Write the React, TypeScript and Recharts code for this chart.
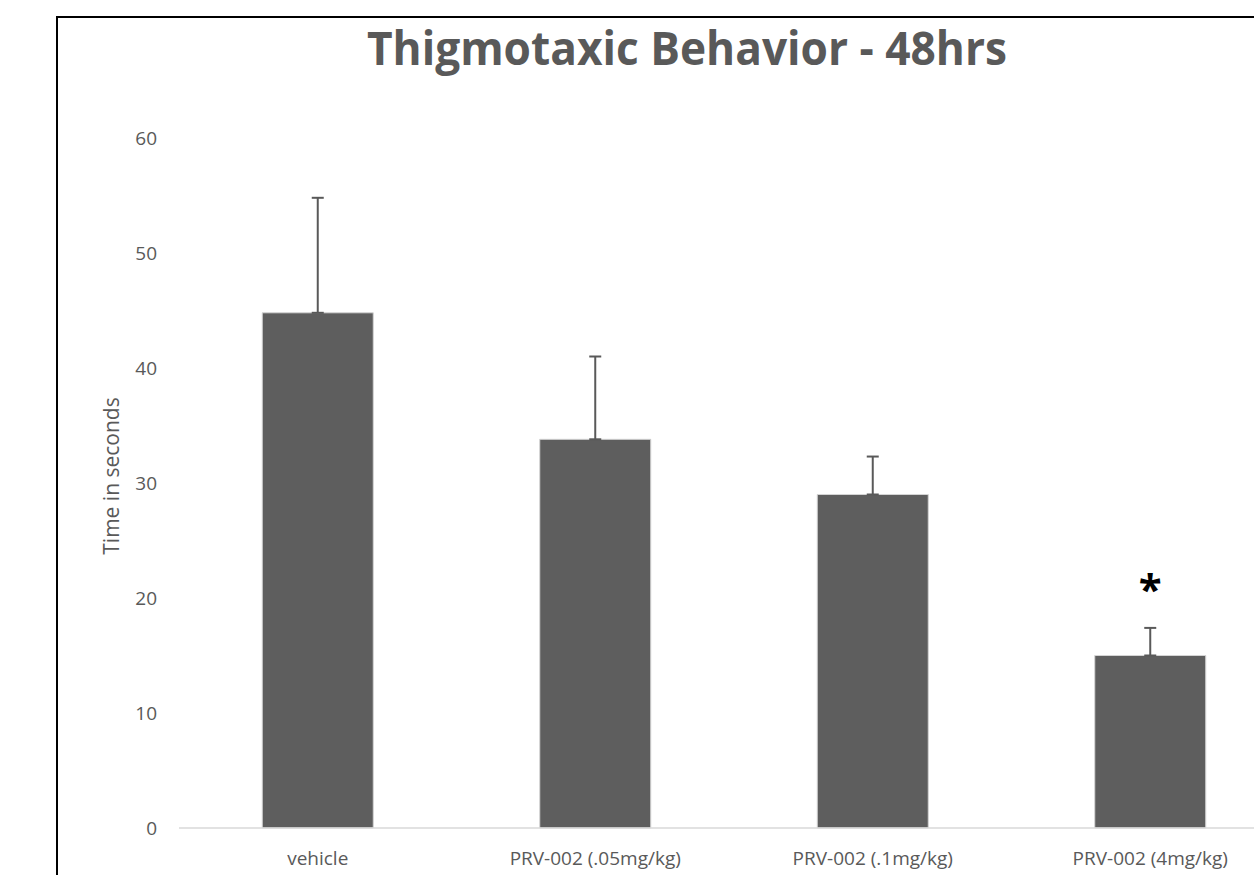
import { Bar, BarChart, ErrorBar, LabelList, XAxis, YAxis } from 'recharts'

// group means (seconds), upper SEM, and significance marks
const groups = ['vehicle', 'PRV-002 (.05mg/kg)', 'PRV-002 (.1mg/kg)', 'PRV-002 (4mg/kg)']
const means = [44.8, 33.8, 29.0, 15.0]
const sems = [10.0, 7.2, 3.3, 2.4]
const marks = ['', '', '', '*']
const yTicks = [0, 10, 20, 30, 40, 50, 60]

const data = groups.map((name, i) => ({
  name,
  mean: means[i],
  err: [0, sems[i]],
  mark: marks[i],
}))

const GRAY = '#595959'
const FONT = '"Open Sans", sans-serif'

function StarLabel(props: any) {
  const { x, y, width, value } = props
  if (!value) return null
  return (
    <text x={x + width / 2} y={y - 52} textAnchor="middle" fontSize={42} fontWeight={700} fill="#000" fontFamily={FONT}>
      {value}
    </text>
  )
}

export default function App() {
  return (
    <div style={{ position: 'fixed', left: 0, top: 0, width: 1254, height: 875, overflow: 'hidden', background: '#fff' }}>
      <div
        style={{
          position: 'absolute',
          left: 56,
          top: 16,
          width: 1300,
          height: 950,
          border: '2px solid #000',
          boxSizing: 'border-box',
        }}
      />
      <svg width={1254} height={875} style={{ position: 'absolute', left: 0, top: 0 }}>
        <text
          x={687}
          y={65}
          textAnchor="middle"
          fontSize={46}
          fontWeight={700}
          fill={GRAY}
          fontFamily={FONT}
          textLength={640}
          lengthAdjust="spacingAndGlyphs"
        >
          Thigmotaxic Behavior - 48hrs
        </text>
        <text
          transform="translate(119 476) rotate(-90)"
          textAnchor="middle"
          fontSize={21}
          fill={GRAY}
          fontFamily={FONT}
        >
          Time in seconds
        </text>
      </svg>
      <div style={{ position: 'absolute', left: 0, top: 0 }}>
        <BarChart
          width={1400}
          height={950}
          data={data}
          margin={{ top: 138, right: 111, bottom: 92, left: 119 }}
          barCategoryGap="30%"
        >
          <XAxis
            dataKey="name"
            height={30}
            tickSize={0}
            tickMargin={24}
            axisLine={{ stroke: '#d9d9d9', strokeWidth: 1.5 }}
            tickLine={false}
            tick={{ fill: GRAY, fontSize: 19, fontFamily: FONT }}
            interval={0}
          />
          <YAxis
            width={60}
            domain={[0, 60]}
            ticks={yTicks}
            tickSize={0}
            tickMargin={22}
            axisLine={false}
            tickLine={false}
            tick={{ fill: GRAY, fontSize: 19, fontFamily: FONT }}
          />
          <Bar dataKey="mean" fill="#5e5e5e" stroke="#d4d4d4" strokeWidth={1} isAnimationActive={false}>
            <ErrorBar dataKey="err" width={6} stroke={GRAY} strokeWidth={2} direction="y" />
            <LabelList dataKey="mark" content={StarLabel} />
          </Bar>
        </BarChart>
      </div>
    </div>
  )
}
